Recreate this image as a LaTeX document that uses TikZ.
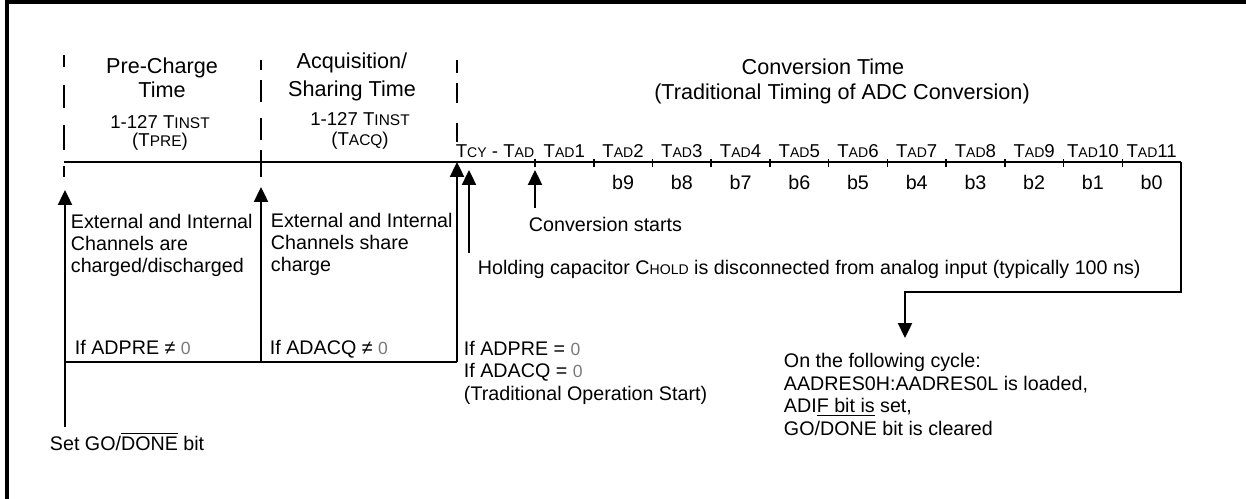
\documentclass[tikz,border=0pt]{standalone}
\usepackage{fontspec}
\setmainfont{Liberation Sans}
\usetikzlibrary{arrows.meta}
\definecolor{zgrey}{HTML}{7A7A7A}
\newcommand{\lo}[1]{{\fontsize{8}{8}\selectfont #1}}
\newcommand{\losub}[1]{{\fontsize{8.8}{8}\selectfont #1}}
\newcommand{\zero}{{\color{zgrey}\fontsize{10}{10}\selectfont 0}}
\newcommand{\ovl}[1]{\ensuremath{\overline{\mbox{#1}}}}
\tikzset{
  every picture/.style={line width=1.1pt},
  txt/.style={inner sep=0pt, anchor=base west, align=left, font=\fontsize{11.2}{12.8}\selectfont},
  ttl/.style={inner sep=0pt, anchor=base, align=center, font=\fontsize{12.3}{14.2}\selectfont},
  subttl/.style={inner sep=0pt, anchor=base, align=center},
  tlab/.style={inner sep=0pt, anchor=base, font=\fontsize{10.6}{12}\selectfont},
  blab/.style={inner sep=0pt, anchor=base, font=\fontsize{11.2}{12}\selectfont},
  arrow/.style={-{Triangle[length=8.5pt,width=8pt]}},
  frame/.style={line width=1.8pt},
}

\begin{document}
\begin{tikzpicture}[x=0.02cm, y=-0.02cm]
  \useasboundingbox (0,0) rectangle (1246,499);
  \draw[frame] (7,510) -- (7,2) -- (1260,2);
  % titles (base = last line)
  \node[ttl] (pretitle) at (162,98) {Pre-Charge\\Time};
  \node[subttl, font=\fontsize{10.6}{10.8}\selectfont] (presub) at (160,147) {1-127 T\losub{INST}\\(T\losub{PRE})};
  \node[ttl] (acqtitle) at (352,97) {Acquisition/\\[2.2pt]Sharing Time};
  \node[subttl, font=\fontsize{10.6}{11.9}\selectfont] (acqsub) at (360,146) {1-127 T\losub{INST}\\(T\losub{ACQ})};
  \node[ttl] (convtitle) at (823,75) {Conversion Time};
  \node[ttl] (convsub) at (842,100) {(Traditional Timing of ADC Conversion)};
  % phase markers
  \draw[dash pattern=on 6.8pt off 10.2pt on 13pt off 9.6pt on 14.2pt off 9.6pt on 6.2pt] (64,55) -- (64,178);
  \draw[dash pattern=on 5.7pt off 5.7pt on 12.5pt off 9pt on 12.5pt off 5.7pt on 15.3pt] (261,60) -- (261,177);
  \draw[dash pattern=on 7.4pt off 5.7pt on 11.3pt off 11.3pt on 10.8pt] (457,60) -- (457,142) -- (462,142);
  % time line
  \coordinate (t0) at (64,162);
  \coordinate (tend) at (1181,162);
  \draw (t0) -- (tend);
  \foreach \i in {0,...,10}
    \draw[line width=0.9pt] (535+58.73*\i,159) -- (535+58.73*\i,167);
  \node[tlab] (tcy) at (495,158) {T\lo{CY} - T\lo{AD}};
  \foreach \i in {1,...,11}
    \node[tlab] (tad\i) at (535+58.73*\i-29.4,158) {T\lo{AD}\i};
  \foreach \i [evaluate=\i as \b using int(11-\i)] in {2,...,11}
    \node[blab] (b\b) at (535+58.73*\i-29.4,190) {b\b};
  % arrows
  \coordinate (go) at (65,427);
  \coordinate (gotip) at (65,190);
  \coordinate (split) at (65,362);
  \coordinate (acqfoot) at (261,362);
  \coordinate (acqtip) at (261,187);
  \coordinate (convfoot) at (457,362);
  \coordinate (convtip) at (457,162);
  \coordinate (holdfoot) at (469,253);
  \coordinate (holdtip) at (469,170);
  \coordinate (startfoot) at (535,208);
  \coordinate (starttip) at (535,170);
  \coordinate (bend) at (905,292);
  \coordinate (loadtip) at (905,338);
  \draw[arrow] (go) -- (gotip);
  \draw (split) -- (convfoot);
  \draw[arrow] (acqfoot) -- (acqtip);
  \draw[arrow] (convfoot) -- (convtip);
  \draw[arrow] (holdfoot) -- (holdtip);
  \draw[arrow] (startfoot) -- (starttip);
  \draw[arrow] (tend) -- (tend |- bend) -| (loadtip);
  % notes (base = last line)
  \node[txt] (preinfo) at (70,273) {External and Internal\\Channels are\\charged/discharged};
  \node[txt] (acqinfo) at (270,272) {External and Internal\\Channels share\\charge};
  \node[txt] (preif) at (74,355) {If ADPRE ≠ \zero};
  \node[txt] (acqif) at (269,355) {If ADACQ ≠ \zero};
  \node[txt] (tradif) at (463,400) {If ADPRE = \zero\\If ADACQ = \zero\\(Traditional Operation Start)};
  \node[txt] (startlbl) at (528,232) {Conversion starts};
  \node[txt] (holdlbl) at (477,275) {Holding capacitor C\lo{HOLD} is disconnected from analog input (typically 100 ns)};
  \node[txt] (result) at (783,435) {On the following cycle:\\AADRES0H:AADRES0L is loaded,\\ADI\underline{F bit is} set,\\GO/DONE bit is cleared};
  \node[txt] (golbl) at (49,450) {Set GO/\ovl{DONE} bit};
\end{tikzpicture}
\end{document}
